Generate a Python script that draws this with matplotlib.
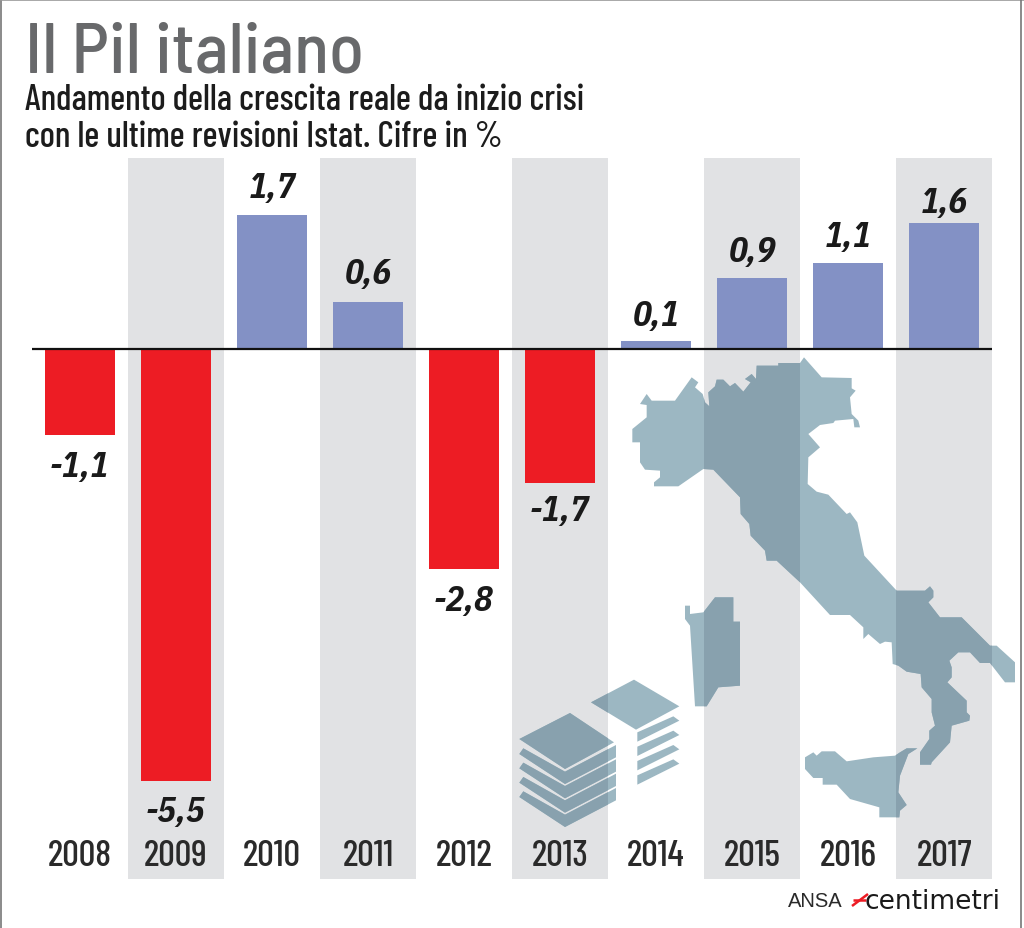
import matplotlib
matplotlib.use("Agg")
import matplotlib.pyplot as plt
from matplotlib.patches import Polygon, Rectangle

years = ["2008", "2009", "2010", "2011", "2012", "2013", "2014", "2015", "2016", "2017"]
pil = [-1.1, -5.5, 1.7, 0.6, -2.8, -1.7, 0.1, 0.9, 1.1, 1.6]

RED = "#ED1C24"
BLUE = "#8391C5"
STRIPE = "#E1E2E4"
MAP_LIGHT = "#9CB7C2"
MAP_DARK = "#88A1AE"

narrow = ["Barlow Condensed", "Roboto Condensed", "Liberation Sans"]
semi = ["Barlow Semi Condensed", "Roboto Condensed", "Liberation Sans"]
plex = ["IBM Plex Sans Condensed", "Roboto Condensed", "Liberation Sans"]

fig = plt.figure(figsize=(10.24, 9.29), dpi=100)
W, H = 1024, 929

# chart axes, zero sits at y=349px and one point is about 78.6px
ax = fig.add_axes([32 / W, (H - 880) / H, 960 / W, (880 - 159) / H])
ax.set_xlim(-0.5, 9.5)
ax.set_ylim(-6.743, 2.43)
ax.axis("off")

for i in range(1, 10, 2):
    ax.axvspan(i - 0.5, i + 0.5, color=STRIPE, lw=0, zorder=0)

colors = [RED if v < 0 else BLUE for v in pil]
ax.bar(range(len(pil)), pil, width=70 / 96, color=colors, zorder=2)
ax.axhline(0, color="#111111", lw=1.6, zorder=3)

# gap between bar end and its label, in px
label_gap = [-31, -30, 28, 28, -31, -28, 26, 27, 26, 21]
for i, v in enumerate(pil):
    ax.annotate(str(v).replace(".", ","), (i, v), xytext=(0, label_gap[i] * 0.72), textcoords="offset points",
                ha="center", va="center", fontsize=25, family=plex,
                fontweight="bold", fontstyle="italic", color="#1a1a1a", zorder=4)
    ax.text(i, -6.44, years[i], ha="center", va="center", fontsize=26.5, family=narrow,
            fontweight="medium", color="#2a2a2a", zorder=4)

# overlay in picture pixels for the map, the stacks and the frame
ov = fig.add_axes([0, 0, 1, 1], facecolor="none")
ov.set_xlim(0, W)
ov.set_ylim(H, 0)
ov.axis("off")

main_a = [(60,165),(80,135),(95,155),(165,155),(215,85),(235,100),(225,115),(248,135),(255,160),
          (268,172),(265,130),(285,112),(290,92),(310,92),(330,112),(345,102),(370,128),(392,100),
          (375,90),(395,75),(408,90),(410,50),(475,50),(475,42),(540,42),(552,25),(605,85),(695,87),
          (695,118),(707,125),(690,145),(695,195),(715,215),(720,235),(703,235),(700,210),(645,215),
          (640,222),(600,228),(565,255),(600,295),(565,325),(563,405),(590,428),(625,437),(680,495),
          (690,490),(712,520),(733,620),(830,725),(915,725),(930,712),(940,725),(940,745),(925,760),
          (960,805),(1025,805)]
main_b = [(1440,170),(1460,170),(1515,220),(1515,280),(1485,280),(1440,222),(1410,222),(1380,190),
          (1345,190),(1318,215),(1325,235),(1325,265),(1312,280),(1370,335),(1370,370),(1380,380),
          (1378,395),(1325,410),(1320,460),(1265,520),(1263,527),(1230,527),(1230,490),(1258,450),
          (1258,425),(1275,410),(1265,370),(1265,330),(1235,295),(1232,255),(1190,248),(1165,230),
          (1148,225),(1145,160),(1125,158),(1110,165),(1075,135),(1060,150),(1060,115),(1020,78),
          (960,78)]
main_c = [(540,700),(470,635),(440,635),(435,605),(392,560),(388,525),(362,495),(360,445),(280,362),
          (250,360),(175,412),(102,412),(102,400),(120,385),(120,365),(75,362),(60,340),(60,280),
          (37,280),(37,240),(80,205),(80,168)]
sardegna = [(525,50),(540,50),(540,75),(580,70),(615,25),(670,25),(670,98),(690,98),(690,290),
            (625,295),(590,352),(555,352),(540,110),(525,90)]
sicilia = [(885,505),(910,490),(920,500),(935,487),(975,487),(1010,517),(1090,505),(1155,500),
           (1170,490),(1190,478),(1222,478),(1195,495),(1170,560),(1165,610),(1190,648),(1170,665),
           (1168,685),(1108,685),(1108,655),(1020,630),(980,587),(938,587),(938,567),(910,567),(885,540)]


def crop1(pts):
    return [(620 + x / 3, 350 + y / 3) for x, y in pts]


def crop2(pts):
    return [(510 + x / 3, 590 + y / 3) for x, y in pts]


shapes = [crop1(main_a) + crop2(main_b) + crop1(main_c), crop2(sardegna), crop2(sicilia)]

# money stacks
shapes.append(crop2([(28,450),(180,372),(312,460),(165,540)]))
shapes.append(crop2([(243,340),(372,272),(508,352),(378,422)]))
for k in range(4):
    d = 43 * k
    shapes.append(crop2([(40,478+d),(165,548+d),(318,468+d),(318,505+d),(165,585+d),(28,495+d)]))
    shapes.append(crop2([(382,430+d),(490,382+d),(508,395+d),(382,458+d)]))

stripes_px = [(32 + 96 * i, 96) for i in range(1, 10, 2)]
for s in shapes:
    ov.add_patch(Polygon(s, closed=True, fc=MAP_LIGHT, ec="none", zorder=1))
    # darker where the shape crosses a grey stripe
    for x0, w in stripes_px:
        p = Polygon(s, closed=True, fc=MAP_DARK, ec="none", zorder=2)
        ov.add_patch(p)
        p.set_clip_path(Rectangle((x0, 158), w, 721, transform=ov.transData))

# titles
ov.text(25, 54, "Il Pil italiano", fontsize=51.5, family=semi, fontweight="medium", color="#68696b",
        ha="left", va="center")
ov.text(25, 100, "Andamento della crescita reale da inizio crisi", fontsize=25.8, family=narrow,
        fontweight="medium", color="#1c1c1c", ha="left", va="center")
ov.text(25, 137, "con le ultime revisioni Istat. Cifre in %", fontsize=25.8, family=narrow,
        fontweight="medium", color="#1c1c1c", ha="left", va="center")

# credit
ov.text(788, 902, "ANSA", fontsize=14.5, family="Liberation Sans", color="#2a2a2a", ha="left", va="center")
ov.plot([852, 868], [907, 895], color=RED, lw=1.8, solid_capstyle="butt")
ov.plot([853, 866], [901, 901], color=RED, lw=1.8, solid_capstyle="butt")
ov.text(865, 902, "centimetri", fontsize=19, family="DejaVu Sans", color="#1a1a1a", ha="left", va="center")

# scan edge
ov.plot([1, 1], [0, H], color="#777777", lw=1.2)
ov.plot([0, W], [0.5, 0.5], color="#999999", lw=1.2)
ov.plot([1021, 1021], [0, H], color="#777777", lw=1.2)

fig.savefig("out.png", dpi=100)
